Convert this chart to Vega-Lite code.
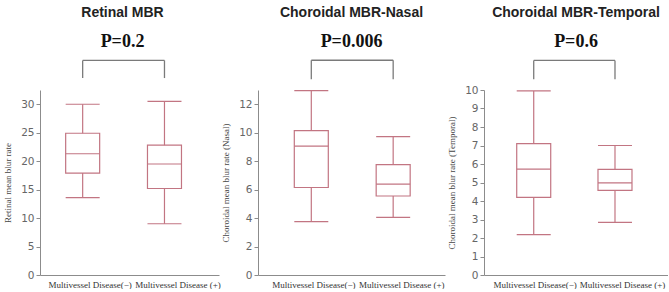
{
  "$schema": "https://vega.github.io/schema/vega-lite/v6.json",
  "background": "white",
  "padding": {"left": 3, "top": 5, "right": 0, "bottom": 0},
  "bounds": "flush",
  "spacing": 39,
  "config": {
    "view": {"stroke": null},
    "tick": {"opacity": 1},
    "axis": {"grid": false, "domainColor": "#8c8c8c", "domainWidth": 1, "tickColor": "#8c8c8c"},
    "axisY": {
      "labelFont": "DejaVu Sans", "labelFontSize": 10.5, "labelColor": "#666666",
      "tickSize": 4, "labelPadding": 2, "labelOverlap": false,
      "titleFont": "Liberation Serif", "titleFontSize": 9, "titleFontWeight": "normal",
      "titleColor": "#444444", "titlePadding": 8
    },
    "axisX": {
      "labelFont": "Liberation Serif", "labelFontSize": 9, "labelColor": "#333333",
      "ticks": false, "labelPadding": 5, "labelAngle": 0, "title": null
    },
    "title": {
      "font": "Liberation Sans", "fontSize": 14, "fontWeight": "bold", "color": "#222222",
      "anchor": "middle", "frame": "group", "offset": 9,
      "subtitleFont": "Liberation Serif", "subtitleFontSize": 18, "subtitleFontWeight": "bold",
      "subtitleColor": "#111111", "subtitlePadding": 13
    }
  },
  "datasets": {
    "boxes": [
      {"measure": "Retinal", "group": "Multivessel Disease(−)", "low": 13.6, "q1": 17.9, "median": 21.3, "q3": 24.9, "high": 30.0},
      {"measure": "Retinal", "group": "Multivessel Disease (+)", "low": 9.0, "q1": 15.2, "median": 19.5, "q3": 22.8, "high": 30.5},
      {"measure": "Nasal", "group": "Multivessel Disease(−)", "low": 3.75, "q1": 6.15, "median": 9.05, "q3": 10.15, "high": 12.95},
      {"measure": "Nasal", "group": "Multivessel Disease (+)", "low": 4.05, "q1": 5.55, "median": 6.38, "q3": 7.75, "high": 9.73},
      {"measure": "Temporal", "group": "Multivessel Disease(−)", "low": 2.18, "q1": 4.2, "median": 5.72, "q3": 7.1, "high": 9.95},
      {"measure": "Temporal", "group": "Multivessel Disease (+)", "low": 2.84, "q1": 4.57, "median": 4.98, "q3": 5.71, "high": 7.0}
    ]
  },
  "hconcat": [
    {
      "width": 179, "height": 185,
      "title": {"text": "Retinal MBR", "subtitle": "P=0.2", "dx": -7},
      "data": {"name": "boxes"},
      "transform": [{"filter": "datum.measure === 'Retinal'"}],
      "encoding": {
        "x": {"field": "group", "type": "nominal",
              "sort": ["Multivessel Disease(−)", "Multivessel Disease (+)"],
              "scale": {"type": "point", "padding": 0.594, "align": 0.439},
              "axis": {"labelOffset": {"condition": {"test": "datum.value === 'Multivessel Disease (+)'", "value": 13}, "value": 7}}}
      },
      "layer": [
        {"mark": {"type": "rule", "color": "#c27582", "strokeWidth": 1.2},
         "encoding": {
           "y": {"field": "low", "type": "quantitative", "scale": {"domain": [0, 32.5], "nice": false},
                 "axis": {"title": "Retinal mean blur rate", "values": [0, 5, 10, 15, 20, 25, 30]}},
           "y2": {"field": "high"}}},
        {"mark": {"type": "tick", "size": 34, "thickness": 1.2, "color": "#c27582"},
         "encoding": {"y": {"field": "low", "type": "quantitative",
                            "axis": {"title": "Retinal mean blur rate", "values": [0, 5, 10, 15, 20, 25, 30]}}}},
        {"mark": {"type": "tick", "size": 34, "thickness": 1.2, "color": "#c27582"},
         "encoding": {"y": {"field": "high", "type": "quantitative",
                            "axis": {"title": "Retinal mean blur rate", "values": [0, 5, 10, 15, 20, 25, 30]}}}},
        {"mark": {"type": "bar", "size": 34, "fill": "white", "stroke": "#c27582", "strokeWidth": 1.2},
         "encoding": {"y": {"field": "q1", "type": "quantitative",
                            "axis": {"title": "Retinal mean blur rate", "values": [0, 5, 10, 15, 20, 25, 30]}},
                      "y2": {"field": "q3"}}},
        {"mark": {"type": "tick", "size": 34, "thickness": 1.2, "color": "#c27582"},
         "encoding": {"y": {"field": "median", "type": "quantitative",
                            "axis": {"title": "Retinal mean blur rate", "values": [0, 5, 10, 15, 20, 25, 30]}}}},
        {"mark": {"type": "rule", "color": "#7a7a7a", "strokeWidth": 1.3},
         "encoding": {"y": {"datum": 37.7, "axis": {"title": "Retinal mean blur rate", "values": [0, 5, 10, 15, 20, 25, 30]}},
                      "y2": {"datum": 34.6}}},
        {"transform": [{"filter": "datum.group === 'Multivessel Disease(−)'"}],
         "mark": {"type": "rule", "color": "#7a7a7a", "strokeWidth": 1.3},
         "encoding": {"x": {"datum": "Multivessel Disease(−)"}, "x2": {"datum": "Multivessel Disease (+)"},
                      "y": {"datum": 37.7, "axis": {"title": "Retinal mean blur rate", "values": [0, 5, 10, 15, 20, 25, 30]}}}}
      ]
    },
    {
      "width": 187, "height": 185,
      "title": {"text": "Choroidal MBR-Nasal", "subtitle": "P=0.006"},
      "data": {"name": "boxes"},
      "transform": [{"filter": "datum.measure === 'Nasal'"}],
      "encoding": {
        "x": {"field": "group", "type": "nominal",
              "sort": ["Multivessel Disease(−)", "Multivessel Disease (+)"],
              "scale": {"type": "point", "padding": 0.642, "align": 0.507},
              "axis": {"labelOffset": {"condition": {"test": "datum.value === 'Multivessel Disease (+)'", "value": 8}, "value": 2}}}
      },
      "layer": [
        {"mark": {"type": "rule", "color": "#c27582", "strokeWidth": 1.2},
         "encoding": {
           "y": {"field": "low", "type": "quantitative", "scale": {"domain": [0, 13], "nice": false},
                 "axis": {"title": "Choroidal mean blur rate (Nasal)", "values": [0, 2, 4, 6, 8, 10, 12]}},
           "y2": {"field": "high"}}},
        {"mark": {"type": "tick", "size": 34, "thickness": 1.2, "color": "#c27582"},
         "encoding": {"y": {"field": "low", "type": "quantitative",
                            "axis": {"title": "Choroidal mean blur rate (Nasal)", "values": [0, 2, 4, 6, 8, 10, 12]}}}},
        {"mark": {"type": "tick", "size": 34, "thickness": 1.2, "color": "#c27582"},
         "encoding": {"y": {"field": "high", "type": "quantitative",
                            "axis": {"title": "Choroidal mean blur rate (Nasal)", "values": [0, 2, 4, 6, 8, 10, 12]}}}},
        {"mark": {"type": "bar", "size": 34, "fill": "white", "stroke": "#c27582", "strokeWidth": 1.2},
         "encoding": {"y": {"field": "q1", "type": "quantitative",
                            "axis": {"title": "Choroidal mean blur rate (Nasal)", "values": [0, 2, 4, 6, 8, 10, 12]}},
                      "y2": {"field": "q3"}}},
        {"mark": {"type": "tick", "size": 34, "thickness": 1.2, "color": "#c27582"},
         "encoding": {"y": {"field": "median", "type": "quantitative",
                            "axis": {"title": "Choroidal mean blur rate (Nasal)", "values": [0, 2, 4, 6, 8, 10, 12]}}}},
        {"mark": {"type": "rule", "color": "#7a7a7a", "strokeWidth": 1.3},
         "encoding": {"y": {"datum": 15.09, "axis": {"title": "Choroidal mean blur rate (Nasal)", "values": [0, 2, 4, 6, 8, 10, 12]}},
                      "y2": {"datum": 13.75}}},
        {"transform": [{"filter": "datum.group === 'Multivessel Disease(−)'"}],
         "mark": {"type": "rule", "color": "#7a7a7a", "strokeWidth": 1.3},
         "encoding": {"x": {"datum": "Multivessel Disease(−)"}, "x2": {"datum": "Multivessel Disease (+)"},
                      "y": {"datum": 15.09, "axis": {"title": "Choroidal mean blur rate (Nasal)", "values": [0, 2, 4, 6, 8, 10, 12]}}}}
      ]
    },
    {
      "width": 184, "height": 185,
      "title": {"text": "Choroidal MBR-Temporal", "subtitle": "P=0.6"},
      "data": {"name": "boxes"},
      "transform": [{"filter": "datum.measure === 'Temporal'"}],
      "encoding": {
        "x": {"field": "group", "type": "nominal",
              "sort": ["Multivessel Disease(−)", "Multivessel Disease (+)"],
              "scale": {"type": "point", "padding": 0.632, "align": 0.484},
              "axis": {"labelOffset": {"condition": {"test": "datum.value === 'Multivessel Disease (+)'", "value": 7}, "value": 1}}}
      },
      "layer": [
        {"mark": {"type": "rule", "color": "#c27582", "strokeWidth": 1.2},
         "encoding": {
           "y": {"field": "low", "type": "quantitative", "scale": {"domain": [0, 10], "nice": false},
                 "axis": {"title": "Choroidal mean blur rate (Temporal)", "values": [0, 1, 2, 3, 4, 5, 6, 7, 8, 9, 10]}},
           "y2": {"field": "high"}}},
        {"mark": {"type": "tick", "size": 34, "thickness": 1.2, "color": "#c27582"},
         "encoding": {"y": {"field": "low", "type": "quantitative",
                            "axis": {"title": "Choroidal mean blur rate (Temporal)", "values": [0, 1, 2, 3, 4, 5, 6, 7, 8, 9, 10]}}}},
        {"mark": {"type": "tick", "size": 34, "thickness": 1.2, "color": "#c27582"},
         "encoding": {"y": {"field": "high", "type": "quantitative",
                            "axis": {"title": "Choroidal mean blur rate (Temporal)", "values": [0, 1, 2, 3, 4, 5, 6, 7, 8, 9, 10]}}}},
        {"mark": {"type": "bar", "size": 34, "fill": "white", "stroke": "#c27582", "strokeWidth": 1.2},
         "encoding": {"y": {"field": "q1", "type": "quantitative",
                            "axis": {"title": "Choroidal mean blur rate (Temporal)", "values": [0, 1, 2, 3, 4, 5, 6, 7, 8, 9, 10]}},
                      "y2": {"field": "q3"}}},
        {"mark": {"type": "tick", "size": 34, "thickness": 1.2, "color": "#c27582"},
         "encoding": {"y": {"field": "median", "type": "quantitative",
                            "axis": {"title": "Choroidal mean blur rate (Temporal)", "values": [0, 1, 2, 3, 4, 5, 6, 7, 8, 9, 10]}}}},
        {"mark": {"type": "rule", "color": "#7a7a7a", "strokeWidth": 1.3},
         "encoding": {"y": {"datum": 11.6, "axis": {"title": "Choroidal mean blur rate (Temporal)", "values": [0, 1, 2, 3, 4, 5, 6, 7, 8, 9, 10]}},
                      "y2": {"datum": 10.58}}},
        {"transform": [{"filter": "datum.group === 'Multivessel Disease(−)'"}],
         "mark": {"type": "rule", "color": "#7a7a7a", "strokeWidth": 1.3},
         "encoding": {"x": {"datum": "Multivessel Disease(−)"}, "x2": {"datum": "Multivessel Disease (+)"},
                      "y": {"datum": 11.6, "axis": {"title": "Choroidal mean blur rate (Temporal)", "values": [0, 1, 2, 3, 4, 5, 6, 7, 8, 9, 10]}}}}
      ]
    }
  ]
}
